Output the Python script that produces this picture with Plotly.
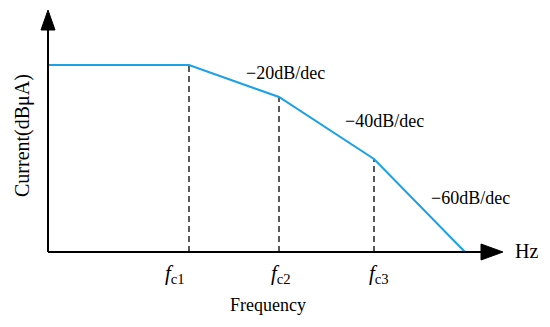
import plotly.graph_objects as go

# Data (arbitrary units: x = frequency position, y = current level)
freq_points = [0, 141, 231, 326, 417]
current_levels = [187, 187, 155, 93, 0]
corner_labels = ["<i>f</i><sub>c1</sub>", "<i>f</i><sub>c2</sub>", "<i>f</i><sub>c3</sub>"]
corner_freqs = [141, 231, 326]
corner_levels = [187, 155, 93]
slope_labels = ["−20dB/dec", "−40dB/dec", "−60dB/dec"]
slope_label_x = [237, 336, 422]
slope_label_y = [179, 131, 54]

BLUE = "#1ba1e6"
FONT = "Liberation Serif, Times New Roman, serif"

fig = go.Figure()

# dashed verticals
for fx, fy in zip(corner_freqs, corner_levels):
    fig.add_trace(go.Scatter(x=[fx, fx], y=[0, fy], mode="lines",
                             line=dict(color="black", width=1.3, dash="6px,4px"),
                             hoverinfo="skip", showlegend=False))

# blue response line
fig.add_trace(go.Scatter(x=freq_points, y=current_levels, mode="lines",
                         line=dict(color=BLUE, width=2), hoverinfo="skip", showlegend=False))

shapes = [
    # y axis
    dict(type="line", x0=0, y0=0, x1=0, y1=224, line=dict(color="black", width=2)),
    dict(type="path", path="M -7,222 L 7,222 L 0,242 Z", fillcolor="black", line=dict(color="black", width=1)),
    # x axis
    dict(type="line", x0=0, y0=0, x1=436, y1=0, line=dict(color="black", width=2)),
    dict(type="path", path="M 433,-8 L 433,8 L 455,0 Z", fillcolor="black", line=dict(color="black", width=1)),
]

annotations = []
label_offsets = [-14, 2, 5]
for lab, fx, off in zip(corner_labels, corner_freqs, label_offsets):
    annotations.append(dict(x=fx + off, y=-22, text=lab, showarrow=False,
                            font=dict(family=FONT, size=21, color="black")))
for lab, lx, ly in zip(slope_labels, slope_label_x, slope_label_y):
    annotations.append(dict(x=lx, y=ly, text=lab, showarrow=False,
                            font=dict(family=FONT, size=18, color="black")))
annotations.append(dict(x=478, y=1, text="Hz", showarrow=False,
                        font=dict(family=FONT, size=20, color="black")))
annotations.append(dict(x=220, y=-53, text="Frequency", showarrow=False,
                        font=dict(family=FONT, size=18, color="black")))
annotations.append(dict(x=-26, y=116, text="Current(dBμA)", textangle=-90, showarrow=False,
                        font=dict(family=FONT, size=20, color="black")))

fig.update_layout(
    width=550, height=327,
    margin=dict(l=0, r=0, t=0, b=0),
    paper_bgcolor="white", plot_bgcolor="white",
    xaxis=dict(range=[-48, 502], visible=False, fixedrange=True),
    yaxis=dict(range=[-75, 252], visible=False, fixedrange=True),
    shapes=shapes, annotations=annotations, showlegend=False,
)

fig.write_html("out.html", config={"displayModeBar": False},
               post_script="document.body.style.margin='0px';document.body.style.overflow='hidden';")
